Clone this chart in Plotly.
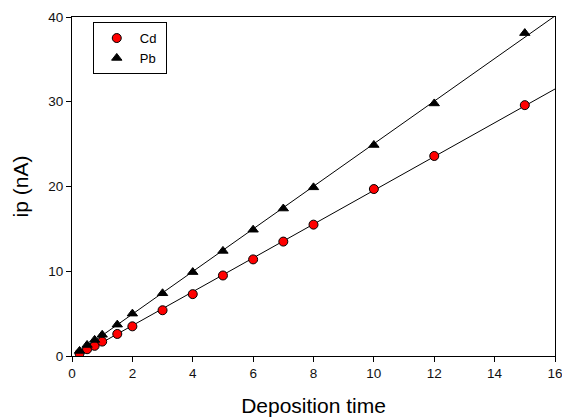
import numpy as np
import plotly.graph_objects as go

time = [0.25, 0.5, 0.75, 1, 1.5, 2, 3, 4, 5, 6, 7, 8, 10, 12, 15]
cd = [0.3, 0.8, 1.2, 1.7, 2.6, 3.5, 5.4, 7.3, 9.5, 11.4, 13.5, 15.5, 19.7, 23.6, 29.6]
pb = [0.6, 1.3, 1.9, 2.5, 3.7, 5.0, 7.4, 9.9, 12.4, 14.9, 17.4, 19.9, 24.9, 29.8, 38.1]
fit_x = [0.25, 16]

fig = go.Figure()
for ys in (cd, pb):
    k, b = np.polyfit(time, ys, 1)
    fig.add_trace(go.Scatter(x=fit_x, y=[k * v + b for v in fit_x], mode="lines",
                             line=dict(color="black", width=1), showlegend=False,
                             hoverinfo="skip"))
fig.add_trace(go.Scatter(x=time, y=cd, mode="markers", name="Cd\u00a0",
                         marker=dict(symbol="circle", size=9, color="red",
                                     line=dict(color="black", width=1))))
fig.add_trace(go.Scatter(x=time, y=pb, mode="markers", name="Pb\u00a0",
                         marker=dict(symbol="triangle-up", size=9, color="black",
                                     line=dict(color="black", width=1))))

FONT = "Liberation Sans"
axis_common = dict(showline=True, linecolor="black", linewidth=1, mirror=True,
                   ticks="outside", ticklen=5, tickcolor="black", showgrid=False,
                   zeroline=False, automargin=False, ticklabeloverflow="allow",
                   tickfont=dict(family=FONT, size=13.5, color="#111"))
fig.update_xaxes(range=[0, 16], dtick=2, title=dict(text="Deposition time",
                 font=dict(family=FONT, size=21, color="black"), standoff=18),
                 **axis_common)
fig.update_yaxes(range=[0, 40], dtick=10, title=dict(text="ip (nA)",
                 font=dict(family=FONT, size=21, color="black"), standoff=13),
                 **axis_common)
fig.update_layout(
    width=562, height=417, margin=dict(l=72, r=7, t=17, b=61),
    plot_bgcolor="white", paper_bgcolor="white",
    legend=dict(x=0.043, y=0.985, xanchor="left", yanchor="top",
                bordercolor="black", borderwidth=1, bgcolor="white",
                font=dict(family=FONT, size=13, color="black"),
                itemwidth=36, tracegroupgap=0),
)
fig.write_html("out.html", config={"displayModeBar": False},
               post_script="document.body.style.margin='0';document.body.style.overflow='hidden';")
